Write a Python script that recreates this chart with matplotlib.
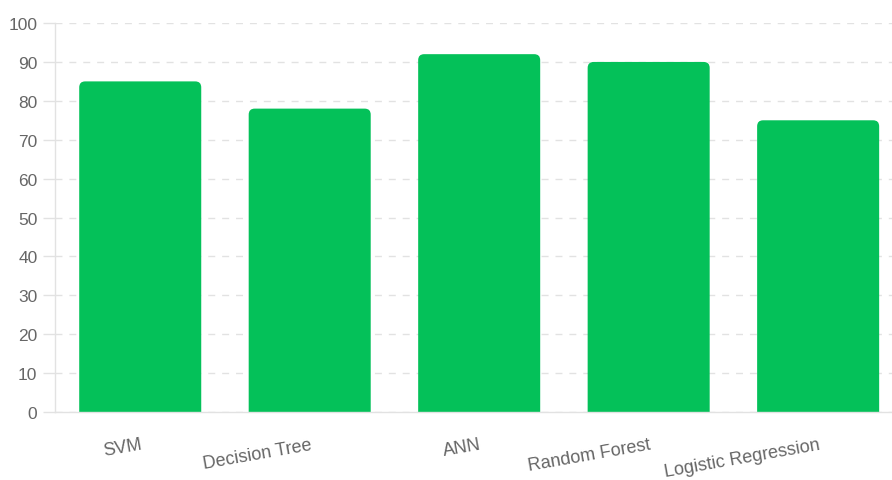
import numpy as np
import matplotlib.pyplot as plt
from matplotlib.patches import FancyBboxPatch

plt.rcParams['font.family'] = ['Liberation Sans', 'DejaVu Sans']

models = ['SVM', 'Decision Tree', 'ANN', 'Random Forest', 'Logistic Regression']
accuracy = [85, 78, 92, 90, 75]
yticks = [0, 10, 20, 30, 40, 50, 60, 70, 80, 90, 100]

green = '#04c159'
grid_col = '#e2e2e2'
text_col = '#666666'

fig = plt.figure(figsize=(8.92, 4.81), dpi=100)
# the plot runs a little past the right edge of the canvas
ax = fig.add_axes([0.0622, 0.1414, 0.950, 0.8086])

x = np.arange(len(models))
bars = ax.bar(x, accuracy, width=0.72, color=green)

ax.set_xlim(-0.5, len(models) - 0.5)
ax.set_ylim(0, 100)

# swap plain bars for ones with rounded tops (bottom part hidden below 0)
fig.canvas.draw()
px_x = ax.transData.transform((1, 0))[0] - ax.transData.transform((0, 0))[0]
px_y = ax.transData.transform((0, 1))[1] - ax.transData.transform((0, 0))[1]
aspect = px_x / px_y
r = 6 / px_x
for b in bars:
    bx, bw, bh = b.get_x(), b.get_width(), b.get_height()
    b.set_visible(False)
    p = FancyBboxPatch((bx + r, -5), bw - 2 * r, bh + 5 - r * aspect,
                       boxstyle='round,pad=%f,rounding_size=%f' % (r, r),
                       mutation_aspect=aspect, fc=green, ec='none', zorder=2)
    ax.add_patch(p)

ax.set_yticks(yticks)
ax.yaxis.grid(True, linestyle=(0, (5, 5)), color=grid_col, linewidth=1)
ax.set_axisbelow(True)
ax.tick_params(axis='y', length=9, width=1, color=grid_col, pad=4,
               labelsize=12.5, labelcolor=text_col)

ax.set_xticks(x)
ax.set_xticklabels(models, rotation=10, ha='right', va='top',
                   rotation_mode='anchor')
ax.tick_params(axis='x', length=0, pad=17, labelsize=13, labelcolor=text_col)

for s in ['top', 'right']:
    ax.spines[s].set_visible(False)
for s in ['left', 'bottom']:
    ax.spines[s].set_color(grid_col)
    ax.spines[s].set_linewidth(1)

fig.savefig('out.png', dpi=100)
